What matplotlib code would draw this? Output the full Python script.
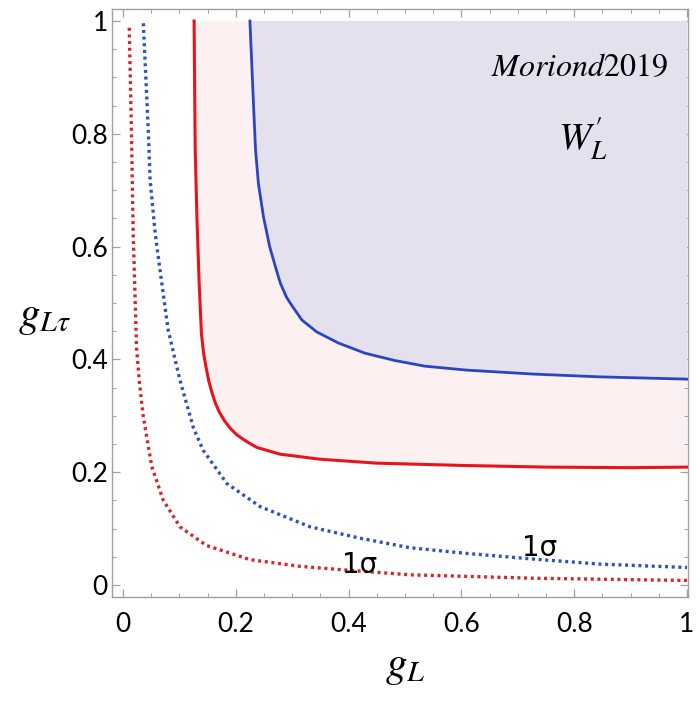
import numpy as np
import matplotlib
matplotlib.use('Agg')
import matplotlib.pyplot as plt
from matplotlib.ticker import MultipleLocator

plt.rcParams['mathtext.fontset'] = 'stix'
plt.rcParams['font.family'] = ['Lato', 'DejaVu Sans']

# Кривые (g_L, g_Ltau)
red_solid_x = [0.126, 0.127, 0.128, 0.131, 0.135, 0.139, 0.143, 0.147, 0.152, 0.158,
               0.164, 0.171, 0.180, 0.190, 0.202, 0.218, 0.237, 0.278, 0.349, 0.450,
               0.600, 0.750, 0.900, 1.000]
red_solid_y = [1.000, 0.880, 0.771, 0.653, 0.535, 0.446, 0.410, 0.387, 0.362, 0.340,
               0.322, 0.306, 0.291, 0.278, 0.266, 0.255, 0.244, 0.232, 0.223, 0.216,
               0.212, 0.209, 0.208, 0.209]

blue_solid_x = [0.225, 0.228, 0.231, 0.235, 0.240, 0.249, 0.260, 0.270, 0.279, 0.290,
                0.299, 0.317, 0.343, 0.382, 0.429, 0.482, 0.535, 0.609, 0.727, 0.846,
                1.000]
blue_solid_y = [1.000, 0.930, 0.860, 0.771, 0.712, 0.653, 0.600, 0.565, 0.535, 0.510,
                0.496, 0.470, 0.449, 0.429, 0.411, 0.398, 0.388, 0.381, 0.374, 0.369,
                0.365]

red_dot_x = [0.011, 0.015, 0.018, 0.024, 0.029, 0.036, 0.051, 0.071, 0.101, 0.148,
             0.225, 0.314, 0.402, 0.509, 0.727, 1.000]
red_dot_y = [0.988, 0.801, 0.624, 0.420, 0.360, 0.298, 0.210, 0.151, 0.103, 0.070,
             0.045, 0.033, 0.026, 0.018, 0.012, 0.008]

blue_dot_x = [0.036, 0.045, 0.048, 0.057, 0.060, 0.080, 0.101, 0.125, 0.142, 0.184,
              0.243, 0.332, 0.420, 0.509, 0.609, 0.727, 0.846, 1.000]
blue_dot_y = [0.996, 0.801, 0.718, 0.624, 0.600, 0.452, 0.363, 0.278, 0.239, 0.180,
              0.139, 0.103, 0.083, 0.066, 0.056, 0.046, 0.037, 0.031]

tick_vals = [0, 0.2, 0.4, 0.6, 0.8, 1]
tick_labels = ['0', '0.2', '0.4', '0.6', '0.8', '1']

sigma_labels = [(0.420, 0.036), (0.739, 0.066)]

RED = '#e8141b'
BLUE = '#2a45c4'
RED_DOT = '#d8232a'
BLUE_DOT = '#3050bf'

fig = plt.figure(figsize=(6.98, 7.03), dpi=100)
ax = fig.add_axes([0.1605, 0.1508, 0.8252, 0.8364])

# Закрашенные области (до g = 1)
ax.fill(red_solid_x + [1.0], red_solid_y + [1.0], color='#fdf0f0', lw=0, zorder=1)
ax.fill(blue_solid_x + [1.0], blue_solid_y + [1.0], color='#e5e0ee', lw=0, zorder=2)

ax.plot(red_solid_x, red_solid_y, color=RED, lw=2.2, zorder=4, solid_joinstyle='round')
ax.plot(blue_solid_x, blue_solid_y, color=BLUE, lw=2.0, zorder=4, solid_joinstyle='round')
ax.plot(red_dot_x, red_dot_y, color=RED_DOT, lw=2.4, ls=(0, (0.9, 1.1)), zorder=3)
ax.plot(blue_dot_x, blue_dot_y, color=BLUE_DOT, lw=2.4, ls=(0, (0.9, 1.1)), zorder=3)

for x, y in sigma_labels:
    ax.text(x, y, '1σ', fontsize=20, ha='center', va='center', zorder=5,
            family=['DejaVu Sans'])

ax.text(0.810, 0.918, r'$Moriond2019$', fontsize=23, ha='center', va='center')
ax.text(0.815, 0.792, r"$W_L^{\prime}$", fontsize=28, ha='center', va='center')

ax.set_xlim(-0.0195, 1.0018)
ax.set_ylim(-0.0213, 1.0213)

ax.set_xticks(tick_vals)
ax.set_xticklabels(tick_labels)
ax.set_yticks(tick_vals)
ax.set_yticklabels(tick_labels)
ax.xaxis.set_minor_locator(MultipleLocator(0.05))
ax.yaxis.set_minor_locator(MultipleLocator(0.05))

for s in ax.spines.values():
    s.set_color('#a0a0a0')
    s.set_linewidth(1.0)
ax.tick_params(which='both', direction='in', top=True, right=True, color='#a0a0a0',
               labelsize=19)
ax.tick_params(which='major', length=5.5, width=0.9)
ax.tick_params(which='minor', length=3, width=0.7)
ax.tick_params(axis='x', pad=11)
ax.tick_params(axis='y', pad=3)

fig.text(45 / 698, 1 - 318 / 703, r'$g_{L\tau}$', fontsize=31, ha='center', va='center')
fig.text(405 / 698, 1 - 668 / 703, r'$g_L$', fontsize=31, ha='center', va='center')

fig.savefig('out.png', dpi=100)
